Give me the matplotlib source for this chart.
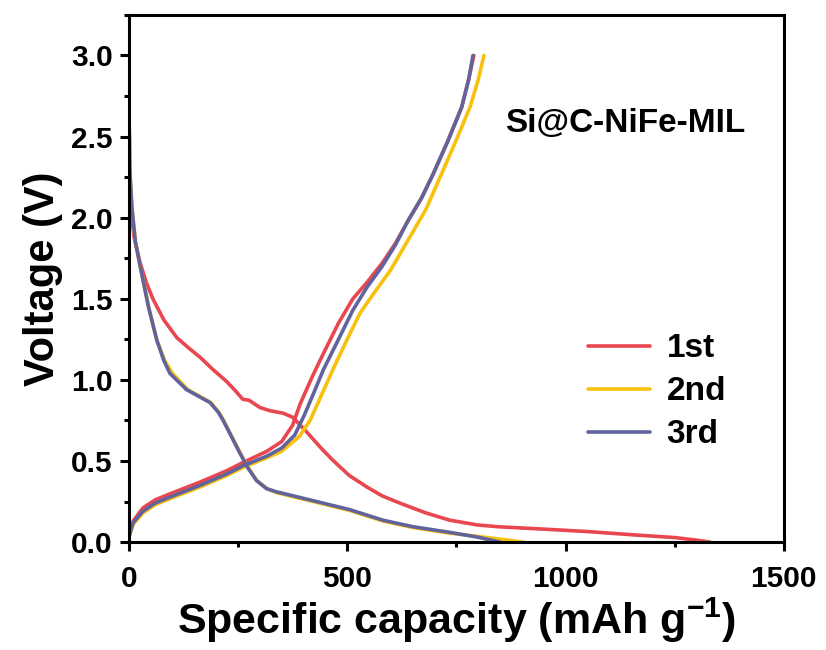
import matplotlib.pyplot as plt
from matplotlib.ticker import MultipleLocator

plt.rcParams["font.family"] = ["Liberation Sans", "DejaVu Sans"]
plt.rcParams["font.weight"] = "bold"
plt.rcParams["mathtext.fontset"] = "custom"
plt.rcParams["mathtext.rm"] = "Liberation Sans:bold"
plt.rcParams["mathtext.bf"] = "Liberation Sans:bold"

labels = ["1st", "2nd", "3rd"]
colors = ["#E8474F", "#F8C10C", "#61649C"]

# discharge branches (capacity mAh/g, voltage V)
dis_1st_x = [0, 2, 5, 12, 25, 40, 55, 80, 110, 140, 163, 190, 224, 245, 261, 275, 300,
             323, 353, 375, 407, 440, 467, 505, 545, 580, 621, 680, 735, 800, 850, 950,
             1050, 1154, 1250, 1300, 1331]
dis_1st_v = [2.74, 2.3, 2.05, 1.88, 1.73, 1.6, 1.5, 1.37, 1.26, 1.19, 1.14, 1.07, 0.99,
             0.93, 0.88, 0.875, 0.83, 0.81, 0.795, 0.77, 0.68, 0.58, 0.505, 0.41, 0.34,
             0.285, 0.24, 0.18, 0.135, 0.105, 0.094, 0.08, 0.065, 0.045, 0.028, 0.012, 0.0]

dis_2nd_x = [0, 2, 7, 15, 29, 45, 64, 82, 100, 135, 188, 206, 217, 236, 255, 273, 293,
             316, 338, 430, 506, 582, 650, 735, 800, 850, 903]
dis_2nd_v = [2.74, 2.3, 2.06, 1.85, 1.66, 1.45, 1.245, 1.12, 1.04, 0.94, 0.86, 0.8, 0.75,
             0.65, 0.55, 0.46, 0.38, 0.33, 0.305, 0.245, 0.195, 0.13, 0.09, 0.055, 0.035,
             0.018, 0.0]

dis_3rd_x = [0, 2, 7, 15, 29, 45, 64, 80, 94, 132, 186, 205, 216, 235, 254, 272, 292,
             315, 338, 430, 506, 582, 650, 735, 800, 850]
dis_3rd_v = [2.74, 2.3, 2.06, 1.85, 1.66, 1.45, 1.245, 1.12, 1.04, 0.94, 0.86, 0.8, 0.75,
             0.65, 0.55, 0.46, 0.38, 0.33, 0.31, 0.25, 0.2, 0.135, 0.095, 0.06, 0.03, 0.0]

# charge branches
chg_1st_x = [0, 10, 32, 60, 87, 125, 163, 224, 261, 316, 350, 375, 392, 420, 445, 480,
             513, 545, 580, 610, 639, 670, 697, 730, 762, 778, 790]
chg_1st_v = [0.04, 0.13, 0.21, 0.26, 0.29, 0.33, 0.37, 0.44, 0.49, 0.56, 0.62, 0.72,
             0.85, 1.02, 1.16, 1.35, 1.5, 1.6, 1.72, 1.84, 1.98, 2.12, 2.27, 2.47, 2.68,
             2.85, 3.0]

chg_2nd_x = [0, 10, 32, 60, 87, 125, 163, 224, 261, 316, 350, 390, 415, 440, 470, 500,
             529, 560, 600, 639, 680, 716, 750, 781, 800, 813]
chg_2nd_v = [0.03, 0.11, 0.18, 0.23, 0.26, 0.3, 0.34, 0.41, 0.46, 0.52, 0.56, 0.65,
             0.75, 0.9, 1.08, 1.25, 1.41, 1.53, 1.68, 1.86, 2.05, 2.27, 2.48, 2.68, 2.85,
             3.0]

chg_3rd_x = [0, 10, 32, 60, 87, 125, 163, 224, 261, 316, 350, 380, 403, 425, 445, 480,
             513, 545, 580, 610, 639, 670, 697, 730, 762, 778, 788]
chg_3rd_v = [0.03, 0.12, 0.19, 0.24, 0.27, 0.31, 0.35, 0.42, 0.47, 0.53, 0.58, 0.66,
             0.79, 0.93, 1.06, 1.25, 1.43, 1.57, 1.7, 1.83, 1.98, 2.12, 2.27, 2.47, 2.68,
             2.85, 3.0]

discharge = [(dis_1st_x, dis_1st_v), (dis_2nd_x, dis_2nd_v), (dis_3rd_x, dis_3rd_v)]
charge = [(chg_1st_x, chg_1st_v), (chg_2nd_x, chg_2nd_v), (chg_3rd_x, chg_3rd_v)]

fig = plt.figure(figsize=(8.26, 6.5), dpi=100)
ax = fig.add_axes([0.156, 0.166, 0.793, 0.811])

for (dx, dv), (cx, cv), lab, col in zip(discharge, charge, labels, colors):
    ax.plot(dx, dv, color=col, lw=2.6, label=lab, solid_capstyle="round")
    ax.plot(cx, cv, color=col, lw=2.6, solid_capstyle="round")

ax.set_xlim(0, 1500)
ax.set_ylim(0, 3.25)
ax.xaxis.set_major_locator(MultipleLocator(500))
ax.xaxis.set_minor_locator(MultipleLocator(250))
ax.yaxis.set_major_locator(MultipleLocator(0.5))
ax.yaxis.set_minor_locator(MultipleLocator(0.25))
ax.yaxis.set_major_formatter(plt.FuncFormatter(lambda v, p: f"{v:.1f}"))

for s in ax.spines.values():
    s.set_linewidth(2.2)
ax.tick_params(which="major", direction="out", length=6.5, width=2.2, labelsize=21.5)
ax.tick_params(which="minor", direction="out", length=3.5, width=2.2)
ax.tick_params(axis="x", which="major", pad=10)
ax.tick_params(axis="y", which="major", pad=5)
for t in ax.get_xticklabels() + ax.get_yticklabels():
    t.set_fontweight("bold")

ax.set_xlabel("Specific capacity (mAh g$^{\\mathbf{-1}}$)", fontsize=31, fontweight="bold", labelpad=2)
ax.set_ylabel("Voltage (V)", fontsize=30, fontweight="bold", labelpad=6)

ax.text(0.574, 0.795, "Si@C-NiFe-MIL", transform=ax.transAxes, fontsize=24,
        fontweight="bold", va="center", ha="left")

ax.legend(loc="center left", bbox_to_anchor=(0.655, 0.285), frameon=False,
          prop={"size": 24, "weight": "bold"}, handlelength=1.86, handletextpad=0.5,
          labelspacing=0.36)

fig.savefig("out.png", dpi=100)
